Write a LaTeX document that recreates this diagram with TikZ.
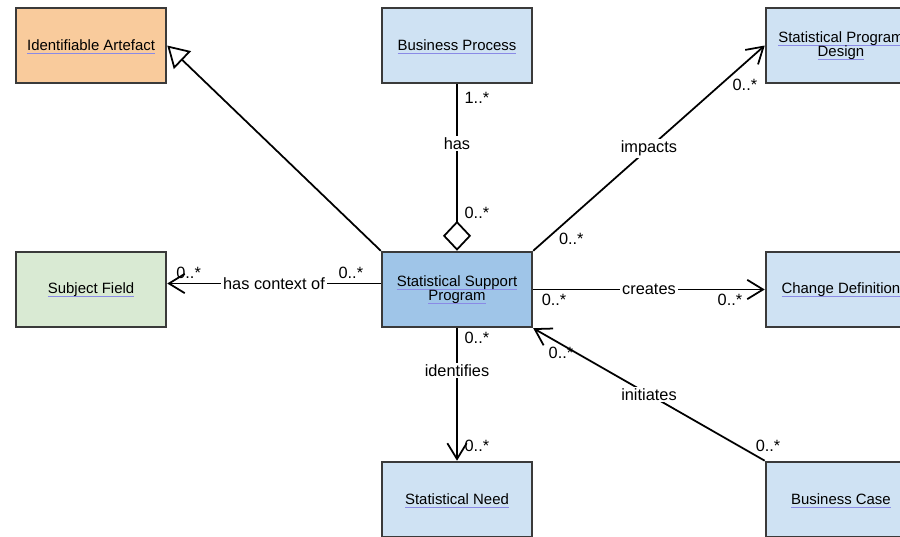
\documentclass[tikz,border=0pt]{standalone}
\usepackage{fontspec}
\setmainfont{Liberation Sans}
\usepackage{tikz}
\usetikzlibrary{arrows.meta, positioning}
\definecolor{boxline}{HTML}{3A3A3A}
\definecolor{paleblue}{HTML}{CFE2F3}
\definecolor{midblue}{HTML}{9FC5E8}
\definecolor{paleorange}{HTML}{F9CB9C}
\definecolor{palegreen}{HTML}{D9EAD3}
\definecolor{linkline}{HTML}{8A8AE6}
\newsavebox\lnkbox
\newcommand\lnk[1]{\sbox\lnkbox{#1}\rlap{\smash{\textcolor{linkline}{\rule[-1.8pt]{\wd\lnkbox}{0.5pt}}}}\usebox\lnkbox}

\begin{document}
\begin{tikzpicture}[
  box/.style={rectangle, draw=boxline, line width=1.4pt, fill=#1,
              minimum width=3cm, minimum height=1.5cm, align=center,
              font=\fontsize{8.5}{8}\selectfont},
  arr/.style={-{Straight Barb[length=9pt, width=11pt]}, line width=1pt},
  gen/.style={-{Triangle[open, length=12pt, width=14pt, fill=white]}, line width=1pt},
  agg/.style={-{Diamond[open, length=17pt, width=16pt, fill=white]}, line width=1pt},
  lbl/.style={font=\fontsize{9.3}{11}\selectfont, fill=white, inner sep=1pt},
  mult/.style={font=\fontsize{9.3}{11}\selectfont, inner sep=1pt}
]
\useasboundingbox (0,0) rectangle (18,-10.74);

% Centre
\node[box=midblue] (ssp) at (9.14,-5.79) {\lnk{Statistical Support}\\\lnk{Program}};

% Middle column
\node[box=paleblue, above=3.33cm of ssp] (bproc) {\lnk{Business Process}};
\node[box=paleblue, below=2.65cm of ssp] (need) {\lnk{Statistical Need}};

% Left column
\node[box=palegreen, left=4.27cm of ssp] (subj) {\lnk{Subject Field}};
\node[box=paleorange, above=3.33cm of subj] (artefact) {\lnk{Identifiable Artefact}};

% Right column
\node[box=paleblue, right=4.63cm of ssp] (change) {\lnk{Change Definition}};
\node[box=paleblue, above=3.33cm of change] (design) {\lnk{Statistical Program}\\\lnk{Design}};
\node[box=paleblue, below=2.65cm of change] (bcase) {\lnk{Business Case}};

% Generalisation
\draw[gen] (ssp.north west) -- (artefact.east);

% Aggregation
\draw[agg] (bproc.south) -- (ssp.north)
  node[lbl, pos=.355] {has}
  node[mult, pos=.08, anchor=west, xshift=.1cm] {1..*}
  node[mult, pos=.77, anchor=west, xshift=.1cm] {0..*};

% Associations
\draw[arr] (ssp.north east) -- (design.west)
  node[lbl, pos=.5] {impacts}
  node[mult, pos=.1, anchor=north west] {0..*}
  node[mult, pos=.85, anchor=north west] {0..*};
\draw[arr] ([yshift=.12cm]ssp.west) -- ([yshift=.12cm]subj.east)
  node[lbl, pos=.5] {has context of}
  node[mult, pos=.14, anchor=south, yshift=1pt] {0..*}
  node[mult, pos=.9, anchor=south, yshift=1pt] {0..*};
\draw[arr] (ssp.east) -- (change.west)
  node[lbl, pos=.5] {creates}
  node[mult, pos=.09, anchor=north, yshift=-1pt] {0..*}
  node[mult, pos=.85, anchor=north, yshift=-1pt] {0..*};
\draw[arr] (ssp.south) -- (need.north)
  node[lbl, pos=.32] {identifies}
  node[mult, pos=.07, anchor=west, xshift=.1cm] {0..*}
  node[mult, pos=.89, anchor=west, xshift=.1cm] {0..*};
\draw[arr] (bcase.north west) -- (ssp.south east)
  node[lbl, pos=.5] {initiates}
  node[mult, pos=.05, anchor=south west] {0..*}
  node[mult, pos=.88, anchor=north] {0..*};

\end{tikzpicture}
\end{document}
